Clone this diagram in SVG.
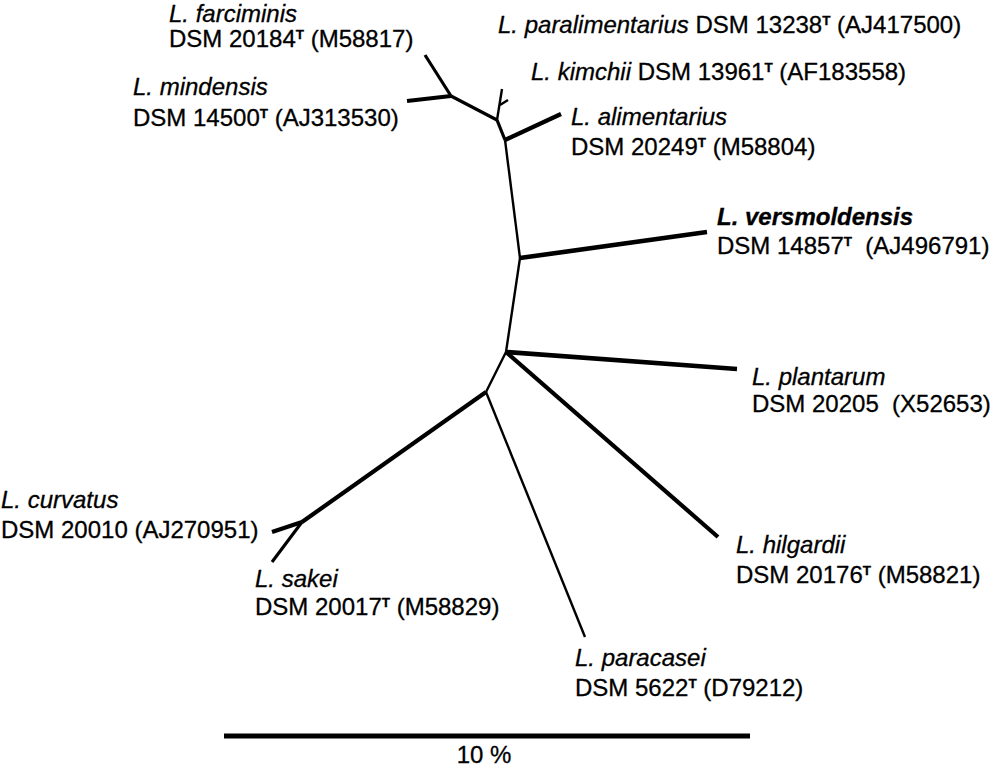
<svg xmlns="http://www.w3.org/2000/svg" width="994" height="773" viewBox="0 0 994 773">
<style>
text { font-family: "Liberation Sans", Arial, sans-serif; font-size: 24px; fill: #000; stroke: #000; stroke-width: 0.3px; }
.sp { font-style: italic; }
.bsp { font-style: italic; font-weight: bold; }
.sup { font-size: 13.5px; font-weight: bold; }
.e { stroke: #000; fill: none; stroke-linecap: butt; }
.w2 { stroke-width: 2.4; }
.w3 { stroke-width: 3.2; }
.w4 { stroke-width: 4.2; }
.w5 { stroke-width: 4.7; }
</style>
<rect width="994" height="773" fill="#fff"/>
<g id="connectors">
  <line class="e w3" x1="451" y1="96" x2="425" y2="55"/>
  <line class="e w4" x1="451" y1="96" x2="407" y2="101"/>
  <line class="e w3" x1="451" y1="96" x2="497" y2="120"/>
  <line class="e w2" x1="497" y1="120" x2="502" y2="89"/>
  <line class="e w2" x1="500" y1="105" x2="508" y2="100"/>
  <line class="e w3" x1="497" y1="120" x2="505" y2="140"/>
  <line class="e w4" x1="505" y1="140" x2="561" y2="114"/>
  <line class="e w2" x1="505" y1="140" x2="520" y2="258"/>
  <line class="e w5" x1="520" y1="258" x2="707" y2="232"/>
  <line class="e w2" x1="520" y1="258" x2="506" y2="352"/>
  <line class="e w5" x1="506" y1="352" x2="737" y2="369"/>
  <line class="e w4" x1="506" y1="352" x2="718" y2="537"/>
  <line class="e w2" x1="506" y1="352" x2="486" y2="392"/>
  <line class="e w2" x1="486" y1="392" x2="585" y2="637"/>
  <line class="e w4" x1="486" y1="392" x2="302" y2="522"/>
  <line class="e w4" x1="302" y1="522" x2="272" y2="532"/>
  <line class="e w3" x1="302" y1="522" x2="272" y2="562"/>
</g>
<g id="farciminis">
  <text class="sp" x="169" y="22">L. farciminis</text>
  <text x="169" y="47">DSM 20184<tspan class="sup" dy="-8">T</tspan><tspan dy="8"> (M58817)</tspan></text>
</g>
<g id="mindensis">
  <text class="sp" x="133" y="95">L. mindensis</text>
  <text x="133" y="126">DSM 14500<tspan class="sup" dy="-8">T</tspan><tspan dy="8"> (AJ313530)</tspan></text>
</g>
<g id="paralimentarius">
  <text x="498" y="33"><tspan class="sp">L. paralimentarius</tspan> DSM 13238<tspan class="sup" dy="-8">T</tspan><tspan dy="8"> (AJ417500)</tspan></text>
</g>
<g id="kimchii">
  <text x="531" y="80"><tspan class="sp">L. kimchii</tspan> DSM 13961<tspan class="sup" dy="-8">T</tspan><tspan dy="8"> (AF183558)</tspan></text>
</g>
<g id="alimentarius">
  <text class="sp" x="571" y="125">L. alimentarius</text>
  <text x="571" y="155">DSM 20249<tspan class="sup" dy="-8">T</tspan><tspan dy="8"> (M58804)</tspan></text>
</g>
<g id="versmoldensis">
  <text class="bsp" x="717" y="225">L. versmoldensis</text>
  <text x="717" y="254" xml:space="preserve">DSM 14857<tspan class="sup" dy="-8">T</tspan><tspan dy="8">  (AJ496791)</tspan></text>
</g>
<g id="plantarum">
  <text class="sp" x="752" y="385">L. plantarum</text>
  <text x="752" y="412" xml:space="preserve">DSM 20205  (X52653)</text>
</g>
<g id="curvatus">
  <text class="sp" x="1" y="508">L. curvatus</text>
  <text x="1" y="538">DSM 20010 (AJ270951)</text>
</g>
<g id="sakei">
  <text class="sp" x="255" y="587">L. sakei</text>
  <text x="255" y="615">DSM 20017<tspan class="sup" dy="-8">T</tspan><tspan dy="8"> (M58829)</tspan></text>
</g>
<g id="hilgardii">
  <text class="sp" x="736" y="553">L. hilgardii</text>
  <text x="736" y="583">DSM 20176<tspan class="sup" dy="-8">T</tspan><tspan dy="8"> (M58821)</tspan></text>
</g>
<g id="paracasei">
  <text class="sp" x="575" y="666">L. paracasei</text>
  <text x="575" y="696">DSM 5622<tspan class="sup" dy="-8">T</tspan><tspan dy="8"> (D79212)</tspan></text>
</g>
<g id="scalebar">
  <line class="e" stroke-width="5" x1="224" y1="736" x2="750" y2="736"/>
  <text x="484" y="763" text-anchor="middle">10 %</text>
</g>
</svg>
